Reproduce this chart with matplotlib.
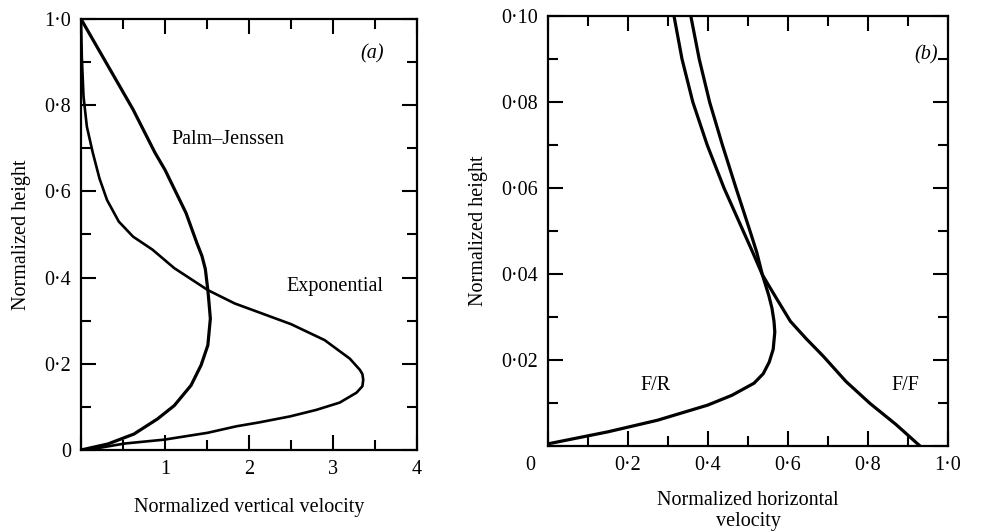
import matplotlib
matplotlib.use("Agg")
import matplotlib.pyplot as plt
from matplotlib.ticker import MultipleLocator, FixedLocator, FixedFormatter

plt.rcParams['font.family'] = ['Liberation Serif', 'DejaVu Serif']

# (a) vertical velocity profiles, height 0..1
pj_x = [0, 0.32, 0.63, 0.91, 1.11, 1.31, 1.43, 1.51, 1.54, 1.52, 1.51, 1.48, 1.44,
        1.38, 1.25, 1.10, 1.0, 0.88, 0.75, 0.62, 0.31, 0]
pj_y = [0, 0.014, 0.037, 0.072, 0.103, 0.15, 0.197, 0.243, 0.305, 0.35, 0.371, 0.42, 0.45,
        0.48, 0.55, 0.61, 0.65, 0.69, 0.74, 0.79, 0.895, 1.0]

exp_x = [0, 0.22, 0.52, 0.99, 1.51, 1.85, 2.12, 2.49, 2.8, 3.08, 3.28, 3.35, 3.36, 3.35, 3.32, 3.2,
         2.9, 2.5, 2.04, 1.83, 1.51, 1.11, 0.85, 0.62, 0.45, 0.31, 0.22, 0.14, 0.07, 0.03, 0.01, 0]
exp_y = [0, 0.005, 0.015, 0.024, 0.04, 0.055, 0.064, 0.078, 0.093, 0.11, 0.133, 0.148, 0.163, 0.176,
         0.186, 0.212, 0.255, 0.292, 0.325, 0.34, 0.371, 0.422, 0.465, 0.495, 0.53, 0.58, 0.63, 0.69,
         0.75, 0.82, 0.91, 1.0]

# (b) horizontal velocity profiles near the bottom, height 0..0.1
fr_x = [0, 0.15, 0.274, 0.399, 0.46, 0.515, 0.538, 0.553, 0.563, 0.567, 0.565, 0.56, 0.552, 0.536,
        0.522, 0.505, 0.47, 0.436, 0.404, 0.378, 0.357]
fr_y = [0.0005, 0.0033, 0.006, 0.0095, 0.0118, 0.0146, 0.0168, 0.0195, 0.0225, 0.0265, 0.029, 0.032,
        0.035, 0.0398, 0.045, 0.05, 0.06, 0.07, 0.08, 0.09, 0.1]

ff_x = [0.93, 0.87, 0.805, 0.745, 0.689, 0.645, 0.606, 0.57, 0.536, 0.512, 0.488,
        0.44, 0.398, 0.362, 0.335, 0.315]
ff_y = [0, 0.005, 0.0099, 0.015, 0.0208, 0.025, 0.029, 0.0345, 0.0398, 0.045, 0.05,
        0.06, 0.07, 0.08, 0.09, 0.1]

a_xticks = [0, 1, 2, 3, 4]
a_xlabels = ['', '1', '2', '3', '4']
a_yticks = [0, 0.2, 0.4, 0.6, 0.8, 1.0]
a_ylabels = ['0', '0·2', '0·4', '0·6', '0·8', '1·0']
b_xticks = [0, 0.2, 0.4, 0.6, 0.8, 1.0]
b_xlabels = ['', '0·2', '0·4', '0·6', '0·8', '1·0']
b_yticks = [0, 0.02, 0.04, 0.06, 0.08, 0.10]
b_ylabels = ['', '0·02', '0·04', '0·06', '0·08', '0·10']

FS = 14.5
LW = 2.3

fig = plt.figure(figsize=(9.84, 5.32), dpi=100)
W, H = 984, 532


def box(l, t, r, b):
    return [l / W, 1 - b / H, (r - l) / W, (b - t) / H]


def style(ax):
    for s in ax.spines.values():
        s.set_linewidth(1.6)
    ax.tick_params(which='both', direction='in', top=True, right=True,
                   width=1.5, labelsize=FS, pad=7)
    ax.tick_params(which='major', length=10.5)
    ax.tick_params(which='minor', length=7.5)


ax1 = fig.add_axes(box(81, 19, 417, 450))
ax1.plot(pj_x, pj_y, color='black', lw=LW, solid_joinstyle='round')
ax1.plot(exp_x, exp_y, color='black', lw=LW - 0.4, solid_joinstyle='round')
ax1.set_xlim(0, 4)
ax1.set_ylim(0, 1)
ax1.xaxis.set_major_locator(FixedLocator(a_xticks))
ax1.xaxis.set_major_formatter(FixedFormatter(a_xlabels))
ax1.xaxis.set_minor_locator(MultipleLocator(0.5))
ax1.yaxis.set_major_locator(FixedLocator(a_yticks))
ax1.yaxis.set_major_formatter(FixedFormatter(a_ylabels))
ax1.yaxis.set_minor_locator(MultipleLocator(0.1))
style(ax1)
ax1.set_xlabel('Normalized vertical velocity', fontsize=FS, labelpad=14)
ax1.set_ylabel('Normalized height', fontsize=FS, labelpad=10)
ax1.text(1.08, 0.72, 'Palm–Jenssen', fontsize=FS, va='center')
ax1.text(2.45, 0.38, 'Exponential', fontsize=FS, va='center')
ax1.text(3.47, 0.92, '(a)', fontsize=FS, style='italic', ha='center', va='center')

ax2 = fig.add_axes(box(548, 16, 948, 446))
ax2.plot(fr_x, fr_y, color='black', lw=LW, solid_joinstyle='round')
ax2.plot(ff_x, ff_y, color='black', lw=LW, solid_joinstyle='round')
ax2.set_xlim(0, 1.0)
ax2.set_ylim(0, 0.1)
ax2.xaxis.set_major_locator(FixedLocator(b_xticks))
ax2.xaxis.set_major_formatter(FixedFormatter(b_xlabels))
ax2.xaxis.set_minor_locator(MultipleLocator(0.1))
ax2.yaxis.set_major_locator(FixedLocator(b_yticks))
ax2.yaxis.set_major_formatter(FixedFormatter(b_ylabels))
ax2.yaxis.set_minor_locator(MultipleLocator(0.01))
style(ax2)
ax2.set_xlabel('Normalized horizontal\nvelocity', fontsize=FS, labelpad=12, linespacing=1.1)
ax2.set_ylabel('Normalized height', fontsize=FS, labelpad=10)
ax2.annotate('0', xy=(0, 0), xycoords='axes fraction', xytext=(-13, -7),
             textcoords='offset points', ha='center', va='top', fontsize=FS)
ax2.text(0.27, 0.014, 'F/R', fontsize=FS, ha='center', va='center')
ax2.text(0.893, 0.014, 'F/F', fontsize=FS, ha='center', va='center')
ax2.text(0.945, 0.091, '(b)', fontsize=FS, style='italic', ha='center', va='center')

fig.savefig('out.png', dpi=100, facecolor='white')
